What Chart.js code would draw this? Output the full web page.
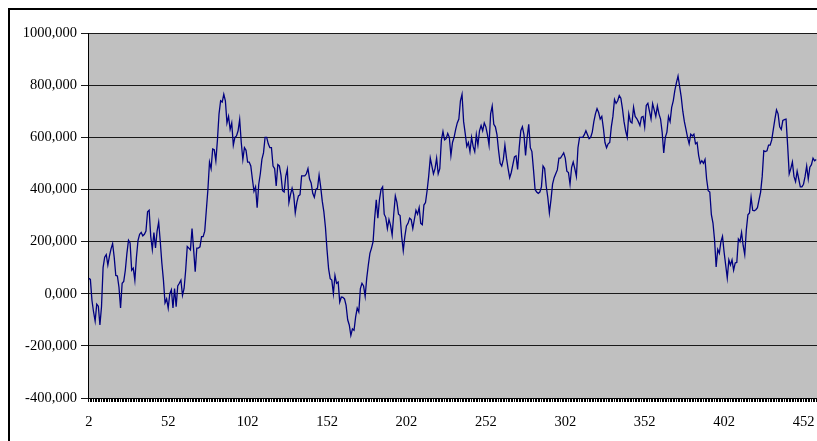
<!DOCTYPE html>
<html>
<head>
<meta charset="utf-8">
<script src="https://cdn.jsdelivr.net/npm/chart.js@4/dist/chart.umd.min.js"></script>
<style>
    html, body { margin: 0; padding: 0; background: #fff; overflow: hidden; }
    #wrap { position: relative; width: 817px; height: 441px; }
    #frame {
        position: absolute; left: 8px; top: 8px; width: 900px; height: 500px;
        border: 2px solid #000; pointer-events: none;
    }
</style>
</head>
<body>
<div id="wrap">
    <canvas id="series-chart" width="817" height="441"></canvas>
    <div id="frame"></div>
</div>
<script>
// First category number on the x axis (rows 2, 3, 4 ...)
const firstCategory = 2;

// Values, one per category (2 .. 460)
const seriesValues = [
    59, 55, -26, -70, -105, -40, -48, -120, -50, 100,
    140, 150, 110, 144, 172, 192, 140, 70, 68, 25,
    -55, 40, 47, 90, 155, 205, 195, 90, 98, 52,
    140, 205, 228, 235, 222, 228, 240, 314, 320, 220,
    170, 235, 176, 240, 275, 200, 118, 52, -35, -20,
    -55, 0, 15, -55, 20, -50, 30, 40, 52, -6,
    20, 90, 181, 175, 168, 250, 170, 84, 175, 175,
    180, 219, 219, 240, 320, 400, 505, 480, 555, 552,
    510, 590, 690, 740, 735, 765, 740, 655, 680, 630,
    655, 570, 600, 605, 625, 668, 580, 515, 560, 550,
    505, 505, 490, 440, 393, 410, 330, 420, 460, 515,
    540, 600, 600, 575, 560, 560, 490, 480, 413, 495,
    490, 455, 395, 390, 450, 477, 350, 380, 405, 380,
    310, 350, 375, 380, 452, 452, 452, 460, 480, 440,
    425, 385, 370, 400, 405, 455, 410, 355, 315, 255,
    168, 95, 58, 52, 0, 70, 40, 45, -32, -13,
    -14, -20, -45, -100, -120, -160, -135, -140, -90, -55,
    -70, 20, 40, 30, -10, 60, 110, 155, 175, 200,
    290, 360, 290, 360, 400, 410, 305, 292, 250, 285,
    262, 225, 305, 375, 350, 305, 300, 220, 165, 220,
    260, 270, 290, 284, 250, 285, 320, 305, 330, 270,
    265, 340, 350, 395, 450, 520, 490, 460, 480, 520,
    460, 480, 590, 622, 590, 595, 615, 600, 530, 580,
    600, 630, 655, 670, 740, 765, 660, 615, 565, 580,
    545, 600, 565, 545, 610, 570, 625, 645, 625, 655,
    640, 610, 570, 690, 720, 650, 640, 610, 550, 500,
    490, 515, 570, 520, 480, 445, 465, 495, 525, 529,
    477, 560, 625, 640, 610, 530, 600, 650, 560, 545,
    475, 400, 390, 385, 390, 410, 490, 480, 413, 370,
    310, 360, 420, 445, 460, 475, 520, 520, 530, 540,
    520, 470, 465, 420, 485, 505, 480, 450, 560, 600,
    600, 600, 610, 625, 610, 595, 600, 620, 660, 690,
    710, 695, 670, 680, 635, 580, 560, 575, 580, 640,
    680, 745, 730, 740, 760, 750, 710, 660, 625, 600,
    690, 660, 655, 715, 680, 672, 660, 645, 677, 680,
    640, 722, 730, 700, 670, 729, 705, 680, 720, 690,
    670, 620, 540, 600, 620, 680, 660, 715, 740, 780,
    810, 835, 795, 755, 700, 660, 630, 600, 575, 612,
    605, 612, 575, 580, 530, 500, 510, 500, 515, 440,
    395, 390, 303, 271, 206, 103, 170, 155, 200, 220,
    160, 110, 60, 130, 110, 130, 90, 118, 120, 210,
    200, 235, 185, 150, 245, 303, 310, 370, 320, 318,
    322, 330, 360, 390, 450, 548, 545, 548, 570, 570,
    590, 630, 670, 705, 690, 640, 630, 665, 668, 670,
    570, 460, 480, 505, 450, 430, 470, 440, 410, 410,
    420, 450, 490, 440, 485, 495, 520, 510, 515
];

// Category labels: row numbers, one per value
const categories = seriesValues.map((v, i) => String(firstCategory + i));

// Y axis range and step
const yMin = -400;
const yMax = 1000;
const yStep = 200;

// Only every 50th category gets a printed label
const labelEvery = 50;

// Fill the plot area grey like the spreadsheet chart
const plotBackground = {
    id: 'plotBackground',
    beforeDraw(chart) {
        const { ctx, chartArea } = chart;
        ctx.save();
        ctx.fillStyle = '#c0c0c0';
        ctx.fillRect(chartArea.left, chartArea.top, chartArea.right - chartArea.left, chartArea.bottom - chartArea.top);
        ctx.restore();
    }
};

document.addEventListener('DOMContentLoaded', function () {
    const ctx = document.getElementById('series-chart').getContext('2d');
    const serif = { family: '"Liberation Serif", "Times New Roman", serif', size: 14.5 };

    new Chart(ctx, {
        type: 'line',
        data: {
            labels: categories,
            datasets: [{
                data: seriesValues,
                borderColor: '#000080',
                borderWidth: 1.3,
                pointRadius: 0,
                tension: 0,
                fill: false
            }]
        },
        options: {
            responsive: false,
            animation: false,
            devicePixelRatio: 1,
            layout: { padding: { top: 33, right: 0, bottom: 0, left: 0 } },
            plugins: {
                legend: { display: false },
                tooltip: { enabled: false }
            },
            scales: {
                x: {
                    type: 'category',
                    offset: true,
                    border: { color: '#000', width: 1 },
                    grid: { drawOnChartArea: false, drawTicks: true, tickLength: 4, color: '#000', lineWidth: 1 },
                    ticks: {
                        autoSkip: false,
                        maxRotation: 0,
                        minRotation: 0,
                        padding: 11,
                        color: '#000',
                        font: serif,
                        callback: function (value, index) {
                            return index % labelEvery === 0 ? categories[index] : '';
                        }
                    },
                    afterFit: function (scale) {
                        scale.height = 43;
                        // let the plot run to the right edge of the picture
                        scale.paddingRight = 0;
                        scale.paddingLeft = 0;
                    }
                },
                y: {
                    min: yMin,
                    max: yMax,
                    border: { color: '#000', width: 1 },
                    grid: { color: '#1a1a1a', lineWidth: 1, tickLength: 7 },
                    ticks: {
                        stepSize: yStep,
                        padding: 4,
                        color: '#000',
                        font: serif,
                        callback: function (value) {
                            return value.toFixed(3).replace('.', ',');
                        }
                    },
                    afterFit: function (scale) { scale.width = 88; }
                }
            }
        },
        plugins: [plotBackground]
    });
});
</script>
</body>
</html>
